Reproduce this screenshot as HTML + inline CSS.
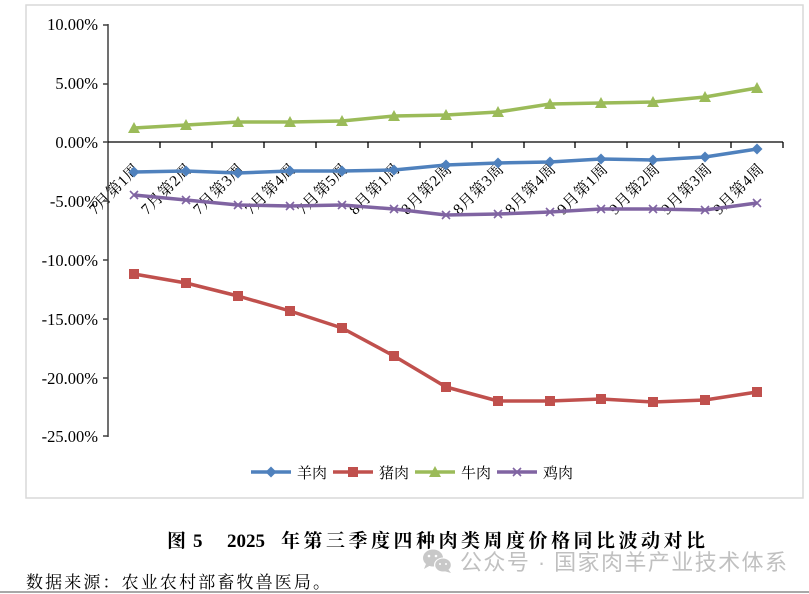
<!DOCTYPE html>
<html><head><meta charset="utf-8">
<style>
html,body{margin:0;padding:0;background:#fff;}
svg{display:block;}
</style></head>
<body>
<svg width="809" height="594" viewBox="0 0 809 594" xmlns="http://www.w3.org/2000/svg">
<rect x="0" y="0" width="809" height="594" fill="#fff"/>
<!-- chart frame -->
<rect x="26" y="5" width="777" height="493" fill="#fff" stroke="#d9d9d9" stroke-width="1.5"/>

<!-- y axis labels -->
<g font-family="'Liberation Serif', serif" font-size="16.5" fill="#000" text-anchor="end">
<text x="98" y="30">10.00%</text>
<text x="98" y="89">5.00%</text>
<text x="98" y="148">0.00%</text>
<text x="98" y="207">-5.00%</text>
<text x="98" y="266">-10.00%</text>
<text x="98" y="325">-15.00%</text>
<text x="98" y="384">-20.00%</text>
<text x="98" y="442">-25.00%</text>
</g>

<!-- category labels rotated -->
<g font-family="'Liberation Serif','Noto Serif CJK SC',serif" font-size="15.5" letter-spacing="0.5" fill="#000" text-anchor="end">
<text transform="translate(137,166) rotate(-45)" dy="0.35em">7月第1周</text>
<text transform="translate(189,166) rotate(-45)" dy="0.35em">7月第2周</text>
<text transform="translate(241,166) rotate(-45)" dy="0.35em">7月第3周</text>
<text transform="translate(293,166) rotate(-45)" dy="0.35em">7月第4周</text>
<text transform="translate(345,166) rotate(-45)" dy="0.35em">7月第5周</text>
<text transform="translate(397,166) rotate(-45)" dy="0.35em">8月第1周</text>
<text transform="translate(449,166) rotate(-45)" dy="0.35em">8月第2周</text>
<text transform="translate(501,166) rotate(-45)" dy="0.35em">8月第3周</text>
<text transform="translate(553,166) rotate(-45)" dy="0.35em">8月第4周</text>
<text transform="translate(605,166) rotate(-45)" dy="0.35em">9月第1周</text>
<text transform="translate(657,166) rotate(-45)" dy="0.35em">9月第2周</text>
<text transform="translate(709,166) rotate(-45)" dy="0.35em">9月第3周</text>
<text transform="translate(761,166) rotate(-45)" dy="0.35em">9月第4周</text>
</g>

<!-- axes -->
<g stroke="#404040" stroke-width="1.5" fill="none">
<line x1="108" y1="24" x2="108" y2="437"/>
<line x1="103" y1="25" x2="108" y2="25"/>
<line x1="103" y1="84" x2="108" y2="84"/>
<line x1="103" y1="142" x2="108" y2="142"/>
<line x1="103" y1="201" x2="108" y2="201"/>
<line x1="103" y1="260" x2="108" y2="260"/>
<line x1="103" y1="319" x2="108" y2="319"/>
<line x1="103" y1="378" x2="108" y2="378"/>
<line x1="103" y1="436" x2="108" y2="436"/>
</g>
<g stroke="#000" stroke-width="1.3" fill="none">
<line x1="108" y1="142" x2="783" y2="142"/>
<line x1="160" y1="142" x2="160" y2="148"/>
<line x1="212" y1="142" x2="212" y2="148"/>
<line x1="264" y1="142" x2="264" y2="148"/>
<line x1="316" y1="142" x2="316" y2="148"/>
<line x1="368" y1="142" x2="368" y2="148"/>
<line x1="420" y1="142" x2="420" y2="148"/>
<line x1="472" y1="142" x2="472" y2="148"/>
<line x1="524" y1="142" x2="524" y2="148"/>
<line x1="575" y1="142" x2="575" y2="148"/>
<line x1="627" y1="142" x2="627" y2="148"/>
<line x1="679" y1="142" x2="679" y2="148"/>
<line x1="731" y1="142" x2="731" y2="148"/>
<line x1="783" y1="142" x2="783" y2="148"/>
</g>

<defs>
<path id="dia" d="M0,-5.5 L5.5,0 L0,5.5 L-5.5,0 Z" fill="#4f81bd"/>
<rect id="sq" x="-5" y="-5" width="10" height="10" fill="#c0504d"/>
<path id="tri" d="M0,-6 L6,5 L-6,5 Z" fill="#9bbb59"/>
<path id="xx" d="M-4,-4 L4,4 M-4,4 L4,-4" stroke="#8064a2" stroke-width="1.6" fill="none"/>
</defs>

<!-- lamb (blue) -->
<polyline fill="none" stroke="#4f81bd" stroke-width="3.5" stroke-linejoin="round"
 points="134,172 186,171 238,173 290,171 342,171 394,170 446,165 498,163 550,162 601,159 653,160 705,157 757,149"/>
<g>
<use href="#dia" x="134" y="172"/><use href="#dia" x="186" y="171"/><use href="#dia" x="238" y="173"/><use href="#dia" x="290" y="171"/><use href="#dia" x="342" y="171"/><use href="#dia" x="394" y="170"/><use href="#dia" x="446" y="165"/><use href="#dia" x="498" y="163"/><use href="#dia" x="550" y="162"/><use href="#dia" x="601" y="159"/><use href="#dia" x="653" y="160"/><use href="#dia" x="705" y="157"/><use href="#dia" x="757" y="149"/>
</g>

<!-- pork (red) -->
<polyline fill="none" stroke="#c0504d" stroke-width="3.5" stroke-linejoin="round"
 points="134,274 186,283 238,296 290,311 342,328 394,356 446,387 498,401 550,401 601,399 653,402 705,400 757,392"/>
<g>
<use href="#sq" x="134" y="274"/><use href="#sq" x="186" y="283"/><use href="#sq" x="238" y="296"/><use href="#sq" x="290" y="311"/><use href="#sq" x="342" y="328"/><use href="#sq" x="394" y="356"/><use href="#sq" x="446" y="387"/><use href="#sq" x="498" y="401"/><use href="#sq" x="550" y="401"/><use href="#sq" x="601" y="399"/><use href="#sq" x="653" y="402"/><use href="#sq" x="705" y="400"/><use href="#sq" x="757" y="392"/>
</g>

<!-- beef (green) -->
<polyline fill="none" stroke="#9bbb59" stroke-width="3.5" stroke-linejoin="round"
 points="134,128 186,125 238,122 290,122 342,121 394,116 446,115 498,112 550,104 601,103 653,102 705,97 757,88"/>
<g>
<use href="#tri" x="134" y="128"/><use href="#tri" x="186" y="125"/><use href="#tri" x="238" y="122"/><use href="#tri" x="290" y="122"/><use href="#tri" x="342" y="121"/><use href="#tri" x="394" y="116"/><use href="#tri" x="446" y="115"/><use href="#tri" x="498" y="112"/><use href="#tri" x="550" y="104"/><use href="#tri" x="601" y="103"/><use href="#tri" x="653" y="102"/><use href="#tri" x="705" y="97"/><use href="#tri" x="757" y="88"/>
</g>

<!-- chicken (purple) -->
<polyline fill="none" stroke="#8064a2" stroke-width="3.5" stroke-linejoin="round"
 points="134,195 186,200 238,205 290,206 342,205 394,209 446,215 498,214 550,212 601,209 653,209 705,210 757,203"/>
<g>
<use href="#xx" x="134" y="195"/><use href="#xx" x="186" y="200"/><use href="#xx" x="238" y="205"/><use href="#xx" x="290" y="206"/><use href="#xx" x="342" y="205"/><use href="#xx" x="394" y="209"/><use href="#xx" x="446" y="215"/><use href="#xx" x="498" y="214"/><use href="#xx" x="550" y="212"/><use href="#xx" x="601" y="209"/><use href="#xx" x="653" y="209"/><use href="#xx" x="705" y="210"/><use href="#xx" x="757" y="203"/>
</g>

<!-- legend -->
<g font-family="'Liberation Serif','Noto Serif CJK SC',serif" font-size="15" fill="#000">
<line x1="251" y1="472" x2="291" y2="472" stroke="#4f81bd" stroke-width="3.5"/>
<use href="#dia" x="271" y="472"/>
<text x="297" y="478">羊肉</text>
<line x1="333" y1="472" x2="373" y2="472" stroke="#c0504d" stroke-width="3.5"/>
<use href="#sq" x="353" y="472"/>
<text x="379" y="478">猪肉</text>
<line x1="415" y1="472" x2="455" y2="472" stroke="#9bbb59" stroke-width="3.5"/>
<use href="#tri" x="435" y="472"/>
<text x="461" y="478">牛肉</text>
<line x1="497" y1="472" x2="537" y2="472" stroke="#8064a2" stroke-width="3.5"/>
<use href="#xx" x="517" y="472"/>
<text x="543" y="478">鸡肉</text>
</g>

<!-- title -->
<g font-family="'Liberation Serif','Noto Serif CJK SC',serif" font-size="19" font-weight="bold" fill="#000">
<text x="167" y="547">图</text>
<text x="193" y="547">5</text>
<text x="227" y="547">2025</text>
<text x="281" y="547" textLength="424" lengthAdjust="spacing">年第三季度四种肉类周度价格同比波动对比</text>
</g>

<!-- watermark -->
<g fill="#c8c8c8">
<ellipse cx="433" cy="558" rx="10" ry="8.5"/>
<path d="M426,564 L424,569 L431,565 Z"/>
<ellipse cx="443" cy="565" rx="9" ry="7.5" fill="#fff"/>
<ellipse cx="443" cy="565" rx="7.8" ry="6.5"/>
<path d="M448,569 L451,573 L444,571 Z"/>
<circle cx="429" cy="556" r="1.3" fill="#fff"/>
<circle cx="436" cy="556" r="1.3" fill="#fff"/>
<circle cx="440" cy="564" r="1" fill="#fff"/>
<circle cx="446" cy="564" r="1" fill="#fff"/>
</g>
<text x="460" y="570" font-family="'Liberation Sans','Noto Sans CJK SC',sans-serif" font-size="22" fill="#c0c0c0" textLength="327" lengthAdjust="spacing">公众号 · 国家肉羊产业技术体系</text>

<!-- source -->
<text x="26" y="588" font-family="'Liberation Serif','Noto Serif CJK SC',serif" font-size="17" fill="#000" textLength="304" lengthAdjust="spacing">数据来源：农业农村部畜牧兽医局。</text>

<line x1="0" y1="592" x2="809" y2="592" stroke="#8c8c8c" stroke-width="1.5"/>
</svg>
</body></html>
